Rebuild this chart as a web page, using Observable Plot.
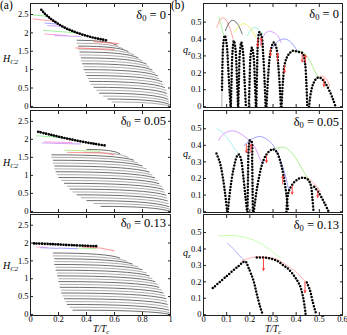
<!DOCTYPE html>
<html><head><meta charset="utf-8">
<script src="https://cdn.jsdelivr.net/npm/d3@7"></script>
<script src="https://cdn.jsdelivr.net/npm/@observablehq/plot@0.6"></script>
<style>
body{margin:0;background:#fff;}
#fig{position:relative;width:347px;height:335px;font-family:"Liberation Serif","DejaVu Serif",serif;color:#000;overflow:hidden;background:#fff}
#fig svg{position:absolute;overflow:visible;background:transparent}
.lab{position:absolute;white-space:nowrap;line-height:1}
.lab sub{font-size:0.68em;vertical-align:-0.25em;line-height:0}
</style></head><body><div id="fig"></div>
<script>
// ---------- tick values / labels ----------
const hTicks = [0, 0.5, 1, 1.5, 2, 2.5];
const hTickLabels = ["0", "0.5", "1", "1.5", "2", "2.5"];
const tTicksA = [0, 0.2, 0.4, 0.6, 0.8, 1];
const tTickLabelsA = ["0", "0.2", "0.4", "0.6", "0.8", "1"];
const qTicks = [0, 0.1, 0.2, 0.3, 0.4, 0.5];
const qTickLabels = ["0", "0.1", "0.2", "0.3", "0.4", "0.5"];
const tTicksB = [0, 0.1, 0.2, 0.3, 0.4, 0.5, 0.6];
const tTickLabelsB = ["0", "0.1", "0.2", "0.3", "0.4", "0.5", "0.6"];
const deltaLabels = ["0", "0.05", "0.13"];

// ---------- (a) panels : Hc2 vs T/Tc ----------
// black-dot branch [t, H]
const aDots0 = [[0.077,2.63],[0.1,2.53],[0.13,2.43],[0.16,2.34],[0.2,2.24],[0.25,2.13],[0.3,2.05],[0.35,1.98],[0.4,1.92],[0.45,1.87],[0.5,1.83],[0.55,1.79]];
const aDots1 = [[0.055,2.21],[0.15,2.12],[0.25,2.03],[0.35,1.95],[0.45,1.88],[0.53,1.83]];
const aDots2 = [[0.025,1.99],[0.15,1.97],[0.3,1.94],[0.48,1.91]];
// gray solution lines [t0, H0, t1, H1]
const aGray0 = [[0.33,1.80,0.62,1.66],[0.33,1.72,0.66,1.57],[0.34,1.64,0.70,1.49],[0.34,1.56,0.74,1.40],[0.35,1.48,0.77,1.32],[0.35,1.40,0.80,1.24],[0.36,1.32,0.83,1.15],[0.36,1.24,0.85,1.07],[0.37,1.16,0.87,0.99],[0.38,1.08,0.89,0.91],[0.38,1.00,0.91,0.83],[0.39,0.92,0.92,0.75],[0.40,0.84,0.94,0.67],[0.41,0.76,0.95,0.59],[0.42,0.68,0.96,0.51],[0.43,0.60,0.97,0.43],[0.45,0.52,0.975,0.35],[0.47,0.44,0.98,0.27],[0.49,0.36,0.985,0.19],[0.52,0.28,0.99,0.12],[0.55,0.20,0.995,0.05],[0.58,0.12,0.998,0.0]];
const aGray1 = [[0.40,1.72,0.64,1.60],[0.38,1.64,0.70,1.50],[0.15,1.57,0.74,1.42],[0.15,1.50,0.77,1.34],[0.16,1.42,0.80,1.26],[0.16,1.34,0.83,1.18],[0.17,1.26,0.85,1.09],[0.17,1.18,0.87,1.01],[0.18,1.10,0.89,0.93],[0.19,1.02,0.91,0.85],[0.20,0.94,0.92,0.77],[0.22,0.86,0.94,0.69],[0.24,0.78,0.95,0.61],[0.26,0.70,0.96,0.53],[0.28,0.62,0.97,0.45],[0.30,0.54,0.975,0.37],[0.33,0.46,0.98,0.29],[0.36,0.38,0.985,0.21],[0.40,0.30,0.99,0.13],[0.45,0.22,0.995,0.06],[0.50,0.14,0.998,0.0]];
const aGray2 = [[0.16,1.72,0.64,1.58],[0.16,1.64,0.69,1.49],[0.17,1.56,0.73,1.41],[0.17,1.48,0.77,1.33],[0.17,1.40,0.80,1.25],[0.18,1.32,0.83,1.16],[0.18,1.24,0.85,1.08],[0.19,1.16,0.87,1.00],[0.19,1.08,0.89,0.92],[0.20,1.00,0.91,0.84],[0.20,0.92,0.92,0.76],[0.21,0.84,0.94,0.68],[0.21,0.76,0.95,0.60],[0.22,0.68,0.96,0.52],[0.22,0.60,0.97,0.44],[0.23,0.52,0.975,0.36],[0.24,0.44,0.98,0.28],[0.25,0.36,0.985,0.20],[0.26,0.28,0.99,0.12],[0.28,0.20,0.995,0.05],[0.30,0.12,0.998,0.0]];
// coloured branches [t0, H0, t1, H1]
const aCol0 = [[0.015,2.49,0.13,2.45],[0.015,2.38,0.19,2.31],[0.10,2.27,0.19,2.24],[0.12,2.20,0.22,2.18],[0.09,2.07,0.33,2.00],[0.10,1.97,0.26,1.93],[0.17,1.93,0.36,1.90],[0.45,1.76,0.63,1.71],[0.32,1.59,0.60,1.55]];
const aCol1 = [[0.04,2.10,0.25,2.04],[0.10,1.93,0.30,1.91],[0.08,1.90,0.36,1.87],[0.24,1.70,0.50,1.67],[0.26,1.64,0.52,1.62],[0.52,1.62,0.60,1.57]];
const aCol2 = [[0.04,1.89,0.12,1.88],[0.07,1.87,0.20,1.85],[0.20,1.86,0.34,1.84],[0.34,1.86,0.47,1.84],[0.37,1.89,0.50,1.86],[0.50,1.86,0.60,1.78]];
const aColPal0 = ["#8e8","#f99","#99f","#c9f","#9e9","#f9c","#c9f","#f77","#f77"];
const aColPal1 = ["#9e9","#f9c","#c9f","#ae8","#f88","#f88"];
const aColPal2 = ["#f9c","#99f","#99f","#9e8","#f88","#f88"];

// ---------- (b) panels : q_z vs T/Tc ----------
// dotted domes, each a list of [t, q]
const bDomes0 = [
 [[0.080,0.10],[0.082,0.26],[0.086,0.38],[0.092,0.42],[0.100,0.37],[0.107,0.22],[0.113,0.08],[0.117,0.0]],
 [[0.118,0.0],[0.121,0.15],[0.125,0.32],[0.131,0.39],[0.138,0.34],[0.144,0.18],[0.149,0.0]],
 [[0.150,0.0],[0.153,0.16],[0.157,0.32],[0.163,0.38],[0.170,0.33],[0.177,0.16],[0.183,0.0]],
 [[0.196,0.0],[0.199,0.15],[0.203,0.30],[0.209,0.35],[0.216,0.30],[0.222,0.14],[0.226,0.0]],
 [[0.228,0.0],[0.231,0.20],[0.235,0.38],[0.241,0.44],[0.250,0.42],[0.258,0.30],[0.264,0.14],[0.268,0.0]],
 [[0.272,0.0],[0.280,0.20],[0.290,0.33],[0.303,0.38],[0.314,0.35],[0.323,0.24],[0.330,0.10],[0.334,0.0]],
 [[0.337,0.0],[0.343,0.15],[0.352,0.26],[0.368,0.31],[0.385,0.33],[0.405,0.325],[0.428,0.315],[0.438,0.26],[0.444,0.14],[0.448,0.0]],
 [[0.456,0.0],[0.463,0.08],[0.475,0.14],[0.490,0.17],[0.505,0.17],[0.525,0.14],[0.545,0.09],[0.560,0.04],[0.570,0.0]]
];
const bDomes1 = [
 [[0.056,0.35],[0.070,0.30],[0.083,0.21],[0.094,0.10],[0.102,0.0]],
 [[0.105,0.0],[0.115,0.13],[0.130,0.26],[0.145,0.335],[0.153,0.345],[0.162,0.315],[0.172,0.21],[0.181,0.09],[0.188,0.0]],
 [[0.190,0.0],[0.192,0.20],[0.195,0.38],[0.200,0.43],[0.207,0.425],[0.210,0.30],[0.212,0.12],[0.213,0.0]],
 [[0.217,0.0],[0.232,0.15],[0.254,0.29],[0.272,0.345],[0.297,0.376],[0.313,0.365],[0.330,0.31],[0.345,0.22],[0.358,0.10],[0.365,0.0]],
 [[0.358,0.0],[0.362,0.08],[0.370,0.13],[0.390,0.175],[0.410,0.198],[0.433,0.205],[0.450,0.195],[0.463,0.16],[0.470,0.08],[0.475,0.0]],
 [[0.478,0.15],[0.495,0.12],[0.510,0.085],[0.525,0.045],[0.540,0.0]]
];
const bDomes2 = [
 [[0.040,0.162],[0.100,0.235],[0.150,0.295],[0.180,0.324],[0.194,0.287],[0.216,0.206],[0.230,0.126],[0.245,0.045],[0.256,0.0]],
 [[0.230,0.348],[0.260,0.348],[0.290,0.342],[0.317,0.328],[0.345,0.300],[0.367,0.277],[0.396,0.227],[0.418,0.170],[0.432,0.090],[0.441,0.0]],
 [[0.446,0.196],[0.460,0.146],[0.472,0.075],[0.487,0.0]]
];
// thin coloured branches, each a list of [t, q]
const bArcs0 = [
 [[0.066,0.53],[0.078,0.47],[0.090,0.41]],
 [[0.058,0.47],[0.070,0.51],[0.085,0.525],[0.100,0.505],[0.115,0.46],[0.128,0.40]],
 [[0.095,0.45],[0.110,0.495],[0.125,0.51],[0.140,0.50],[0.155,0.47],[0.167,0.43]],
 [[0.135,0.44],[0.150,0.475],[0.170,0.49],[0.190,0.48],[0.210,0.45],[0.225,0.41]],
 [[0.190,0.42],[0.205,0.455],[0.220,0.468],[0.240,0.455],[0.255,0.43]],
 [[0.245,0.37],[0.260,0.42],[0.280,0.445],[0.300,0.44],[0.320,0.42],[0.335,0.38]],
 [[0.300,0.35],[0.320,0.385],[0.345,0.40],[0.370,0.39],[0.390,0.36],[0.410,0.32]],
 [[0.360,0.30],[0.380,0.325],[0.400,0.33],[0.430,0.32],[0.460,0.27],[0.480,0.21],[0.500,0.17]],
 [[0.490,0.17],[0.510,0.18],[0.530,0.165],[0.545,0.12]],
 [[0.079,0.0],[0.080,0.10]],
 [[0.116,0.0],[0.117,0.12]],
 [[0.150,0.0],[0.151,0.12]]
];
const bArcs1 = [
 [[0.058,0.50],[0.080,0.48],[0.100,0.45],[0.120,0.41],[0.140,0.37],[0.152,0.345]],
 [[0.065,0.43],[0.080,0.46],[0.100,0.48],[0.130,0.487],[0.160,0.47],[0.185,0.445],[0.205,0.42],[0.225,0.38],[0.240,0.33],[0.255,0.29]],
 [[0.175,0.40],[0.200,0.43],[0.225,0.448],[0.250,0.452],[0.280,0.43],[0.310,0.38],[0.340,0.28],[0.360,0.18],[0.368,0.13]],
 [[0.300,0.375],[0.320,0.385],[0.345,0.388],[0.370,0.37],[0.400,0.32],[0.420,0.27],[0.440,0.225],[0.460,0.185]],
 [[0.430,0.205],[0.450,0.20],[0.470,0.18],[0.490,0.15],[0.505,0.12]]
];
const bArcs2 = [
 [[0.104,0.433],[0.130,0.40],[0.155,0.36],[0.180,0.324]],
 [[0.065,0.48],[0.100,0.482],[0.144,0.48],[0.180,0.47],[0.216,0.455],[0.250,0.43],[0.288,0.395],[0.310,0.37],[0.331,0.348]],
 [[0.165,0.328],[0.200,0.345],[0.230,0.352],[0.270,0.35],[0.310,0.34],[0.350,0.31],[0.380,0.28],[0.403,0.257],[0.430,0.215],[0.446,0.196]]
];
const bArcPal0 = ["#9e8","#f88","#444","#ee5","#8ec","#c8f","#88f","#9e7","#f99","#999","#9e8","#f88"];
const bArcPal1 = ["#9ee","#c8f","#88f","#9e7","#f99"];
const bArcPal2 = ["#99f","#bf9","#f99"];
// red arrows [t, q from, q to]
const bArrows0 = [[0.234,0.40,0.355],[0.249,0.36,0.405],[0.289,0.345,0.30],[0.32,0.27,0.315],[0.35,0.245,0.20],[0.426,0.31,0.265],[0.44,0.26,0.305],[0.52,0.165,0.12]];
const bArrows1 = [[0.185,0.405,0.356],[0.205,0.356,0.405],[0.272,0.336,0.296],[0.342,0.166,0.216],[0.383,0.156,0.106],[0.493,0.126,0.086]];
const bArrows2 = [[0.259,0.345,0.27],[0.438,0.20,0.135]];

// ---------- drawing ----------
const fig = document.getElementById("fig");
const serif = '"Liberation Serif","DejaVu Serif",serif';
const rows = {top: [0, 107, 211], height: [108, 106, 116], mb: [1, 1, 12]};

function place(el, left, top) { el.style.left = left + "px"; el.style.top = top + "px"; fig.appendChild(el); }

// curve for the gray branches: flat start, bending down at the end
function curveKnee(context) {
  let pts = [];
  return {
    areaStart() {}, areaEnd() {},
    lineStart() { pts = []; },
    point(x, y) { pts.push([x, y]); },
    lineEnd() {
      const [a, b] = pts;
      context.moveTo(a[0], a[1]);
      context.quadraticCurveTo(a[0] + 0.8 * (b[0] - a[0]), a[1], b[0], b[1]);
    }
  };
}

function frameAxes(xTicks, xLabels, showX, yTicks, yLabels) {
  return [
    Plot.axisY({ticks: yTicks, anchor: "left", tickSize: -3, tickPadding: 5, tickFormat: d => yLabels[yTicks.indexOf(d)], stroke: "#222"}),
    Plot.axisY({ticks: yTicks, anchor: "right", tickSize: -3, tickFormat: () => "", stroke: "#222"}),
    Plot.axisX({ticks: xTicks, anchor: "bottom", tickSize: -3, tickPadding: 3, tickFormat: showX ? (d => xLabels[xTicks.indexOf(d)]) : () => "", stroke: "#222"}),
    Plot.axisX({ticks: xTicks, anchor: "top", tickSize: -3, tickFormat: () => "", stroke: "#222"}),
    Plot.frame({stroke: "#222", strokeWidth: 1})
  ];
}
const dotted = {stroke: "#000", strokeWidth: 2.5, strokeDasharray: "0 3.1", strokeLinecap: "round", strokeLinejoin: "round"};

const aSets = [[aDots0, aGray0, aCol0, aColPal0], [aDots1, aGray1, aCol1, aColPal1], [aDots2, aGray2, aCol2, aColPal2]];
aSets.forEach(([dots, gray, col, pal], k) => {
  const g = gray.map(r => ({x1: r[0], y1: r[1], x2: r[2], y2: r[3]}));
  const c = col.map((r, i) => ({x1: r[0], y1: r[1], x2: r[2], y2: r[3], c: pal[i]}));
  const d = dots.map(r => ({x: r[0], y: r[1]}));
  const p = Plot.plot({
    width: 172, height: rows.height[k], marginLeft: 30, marginRight: 2, marginTop: 3, marginBottom: rows.mb[k],
    x: {domain: [0, 1]}, y: {domain: [-0.03, 2.8]},
    style: {fontFamily: serif, fontSize: "8.5px", background: "transparent", overflow: "visible"},
    marks: [
      Plot.link(g, {x1: "x1", y1: "y1", x2: "x2", y2: "y2", curve: curveKnee, stroke: (r, i) => i % 2 ? "#a3a3a3" : "#5e5e5e", strokeWidth: 0.9}),
      Plot.link(c, {x1: "x1", y1: "y1", x2: "x2", y2: "y2", stroke: "c", strokeWidth: 0.9}),
      Plot.line(d, {x: "x", y: "y", curve: "catmull-rom", ...dotted, strokeWidth: 2.7, strokeDasharray: "0 2.7"}),
      ...frameAxes(tTicksA, tTickLabelsA, k === 2, hTicks, hTickLabels)
    ]
  });
  place(p, 0, rows.top[k]);
});

const bSets = [[bDomes0, bArcs0, bArcPal0, bArrows0], [bDomes1, bArcs1, bArcPal1, bArrows1], [bDomes2, bArcs2, bArcPal2, bArrows2]];
bSets.forEach(([domes, arcs, pal, arrows], k) => {
  const dm = domes.flatMap((pts, id) => pts.map(r => ({x: r[0], y: r[1], id})));
  const ar = arcs.flatMap((pts, id) => pts.map(r => ({x: r[0], y: r[1], id, c: pal[id]})));
  const aw = arrows.map(r => ({t: r[0], q1: r[1], q2: r[2]}));
  const p = Plot.plot({
    width: 171, height: rows.height[k], marginLeft: 30, marginRight: 2, marginTop: 3, marginBottom: rows.mb[k],
    x: {domain: [0, 0.6]}, y: {domain: [-0.005, 0.61]},
    style: {fontFamily: serif, fontSize: "8.5px", background: "transparent", overflow: "visible"},
    marks: [
      Plot.line(ar, {x: "x", y: "y", z: "id", stroke: "c", strokeWidth: 0.8, curve: "natural"}),
      Plot.line(dm, {x: "x", y: "y", z: "id", curve: "catmull-rom", ...dotted}),
      Plot.arrow(aw, {x1: "t", y1: "q1", x2: "t", y2: "q2", stroke: "#f33", strokeWidth: 0.9, headLength: 3.5, headAngle: 50}),
      ...frameAxes(tTicksB, tTickLabelsB, k === 2, qTicks, qTickLabels)
    ]
  });
  place(p, 173, rows.top[k]);
});

// ---------- text labels ----------
function label(html, css) {
  const s = document.createElement("div");
  s.className = "lab";
  s.innerHTML = html;
  Object.assign(s.style, css);
  fig.appendChild(s);
}
label("(a)", {left: "0px", top: "0px", fontSize: "11.5px"});
label("(b)", {left: "171px", top: "0px", fontSize: "11.5px"});
const hTops = [54, 158, 261], qTops = [45, 149, 248];
const dTopsA = [9, 115, 217], dTopsB = [8, 116, 219];
for (let k = 0; k < 3; k++) {
  label('<i>H<sub>C2</sub></i>', {left: "3px", top: hTops[k] + "px", fontSize: "10px"});
  label('<i>q<sub>z</sub></i>', {left: "183px", top: qTops[k] + "px", fontSize: "10px"});
  label('δ<sub>0</sub> = ' + deltaLabels[k], {right: "181px", top: dTopsA[k] + "px", fontSize: "12.5px"});
  label('δ<sub>0</sub> = ' + deltaLabels[k], {right: "8px", top: dTopsB[k] + "px", fontSize: "12.5px"});
}
label('<i>T/T<sub>c</sub></i>', {left: "93px", top: "324.5px", fontSize: "9.5px"});
label('<i>T/T<sub>c</sub></i>', {left: "265px", top: "324.5px", fontSize: "9.5px"});
</script></body></html>
